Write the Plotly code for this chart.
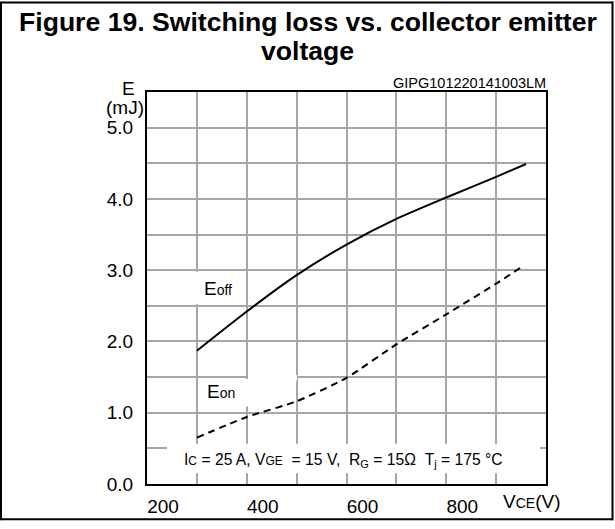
import plotly.graph_objects as go

# ---- data ----
vce_off = [300, 400, 500, 600, 700, 800, 900, 960]
e_off = [1.87, 2.42, 2.93, 3.36, 3.72, 4.02, 4.31, 4.49]

vce_on = [300, 400, 500, 600, 700, 800, 900, 950]
e_on = [0.65, 0.94, 1.16, 1.49, 1.96, 2.38, 2.81, 3.04]

x_tickvals = [200, 400, 600, 800]
x_ticktext = ["200", "400", "600", "800"]
x_gridvals = [300, 400, 500, 600, 700, 800, 900]
y_tickvals = [0, 1, 2, 3, 4, 5]
y_ticktext = ["0.0", "1.0", "2.0", "3.0", "4.0", "5.0"]
y_gridvals = [0.5, 1, 1.5, 2, 2.5, 3, 3.5, 4, 4.5, 5]

FONT = "Liberation Sans, Arial, sans-serif"
W, H = 615, 529
L, R, T, B = 147, 69, 92, 38
PW = W - L - R
PH = H - T - B


def px(x):
    return (x - L) / PW


def py(y):
    return (H - B - y) / PH


fig = go.Figure()
fig.add_trace(go.Scatter(x=vce_off, y=e_off, mode="lines", name="Eoff",
                         line=dict(color="black", width=2, shape="spline", smoothing=0.6),
                         showlegend=False, hoverinfo="x+y"))
fig.add_trace(go.Scatter(x=vce_on, y=e_on, mode="lines", name="Eon",
                         line=dict(color="black", width=2, dash="7px,5px", shape="spline", smoothing=0.6),
                         showlegend=False, hoverinfo="x+y"))

grid = "#a6a6a6"
fig.update_layout(
    width=W, height=H,
    margin=dict(l=L, r=R, t=T, b=B, pad=0),
    paper_bgcolor="white", plot_bgcolor="white",
    font=dict(family=FONT, color="black", size=19),
    xaxis=dict(range=[200, 1000], tickmode="array", tickvals=x_tickvals, ticktext=x_ticktext,
               showgrid=False, zeroline=False,
               minor=dict(tickmode="array", tickvals=x_gridvals, showgrid=True,
                          gridcolor=grid, gridwidth=1.5, ticks=""),
               showline=True, linecolor="black", linewidth=2, mirror=True,
               ticks="", ticklabelshift=16, ticklabelstandoff=4,
               tickfont=dict(family=FONT, size=19, color="black")),
    yaxis=dict(range=[0, 5.5], tickmode="array", tickvals=y_tickvals, ticktext=y_ticktext,
               showgrid=False, zeroline=False,
               minor=dict(tickmode="array", tickvals=y_gridvals, showgrid=True,
                          gridcolor=grid, gridwidth=1.5, ticks=""),
               showline=True, linecolor="black", linewidth=2, mirror=True,
               ticks="", ticklabelshift=0, ticklabelstandoff=8,
               tickfont=dict(family=FONT, size=19, color="black")),
)


def frame_line(x0, y0, x1, y1):
    return dict(type="line", xref="paper", yref="paper", x0=px(x0), y0=py(y0), x1=px(x1), y1=py(y1),
                line=dict(color="black", width=2), layer="above")


shapes = [
    # white patches behind the in-plot labels (cover the grid, not the curves)
    dict(type="rect", xref="paper", yref="paper", x0=px(150), x1=px(240), y0=py(308), y1=py(275),
         fillcolor="white", line=dict(width=0), layer="above"),
    dict(type="rect", xref="paper", yref="paper", x0=px(199), x1=px(262), y0=py(412), y1=py(384),
         fillcolor="white", line=dict(width=0), layer="above"),
    dict(type="rect", xref="paper", yref="paper", x0=px(248), x1=px(297), y0=py(386), y1=py(380),
         fillcolor="white", line=dict(width=0), layer="above"),
    dict(type="rect", xref="paper", yref="paper", x0=px(167), x1=px(540), y0=py(480), y1=py(450),
         fillcolor="white", line=dict(width=0), layer="above"),
    # outer frame
    frame_line(1, 1, 613, 1),
    frame_line(1, 527, 613, 527),
    frame_line(1, 0, 1, 528),
    frame_line(612.5, 0, 612.5, 528),
]
fig.update_layout(shapes=shapes)


def ann(text, x, y, size=19, bold=False, xanchor="center"):
    if bold:
        text = "<b>" + text + "</b>"
    return dict(text=text, x=px(x), y=py(y), xref="paper", yref="paper",
                xanchor=xanchor, yanchor="middle", showarrow=False,
                font=dict(family=FONT, size=size, color="black"))


sm = "<span style='font-size:14px'>{}</span>"
sm2 = "<span style='font-size:12px'>{}</span>"
annotations = [
    ann("Figure 19. Switching loss vs. collector emitter", 307.5, 21, size=26.6, bold=True),
    ann("voltage", 307.5, 50, size=26.6, bold=True),
    ann("GIPG101220141003LM", 469, 83, size=14.5),
    ann("E", 128, 88),
    ann("(mJ)", 125, 108),
    ann("V" + sm.format("CE") + "(V)", 531, 509),
    ann("E" + sm.format("off"), 218, 292),
    ann("E" + sm.format("on"), 221, 397),
    ann("I" + sm2.format("C") + " = 25 A, V" + sm2.format("GE") + "  = 15 V,  R<sub>G</sub> = 15Ω  T<sub>j</sub> = 175 °C",
        343, 467, size=15.7),
]
fig.update_layout(annotations=annotations)

fig.write_html("out.html", config={"displayModeBar": False},
               post_script="document.body.style.margin='0';")
